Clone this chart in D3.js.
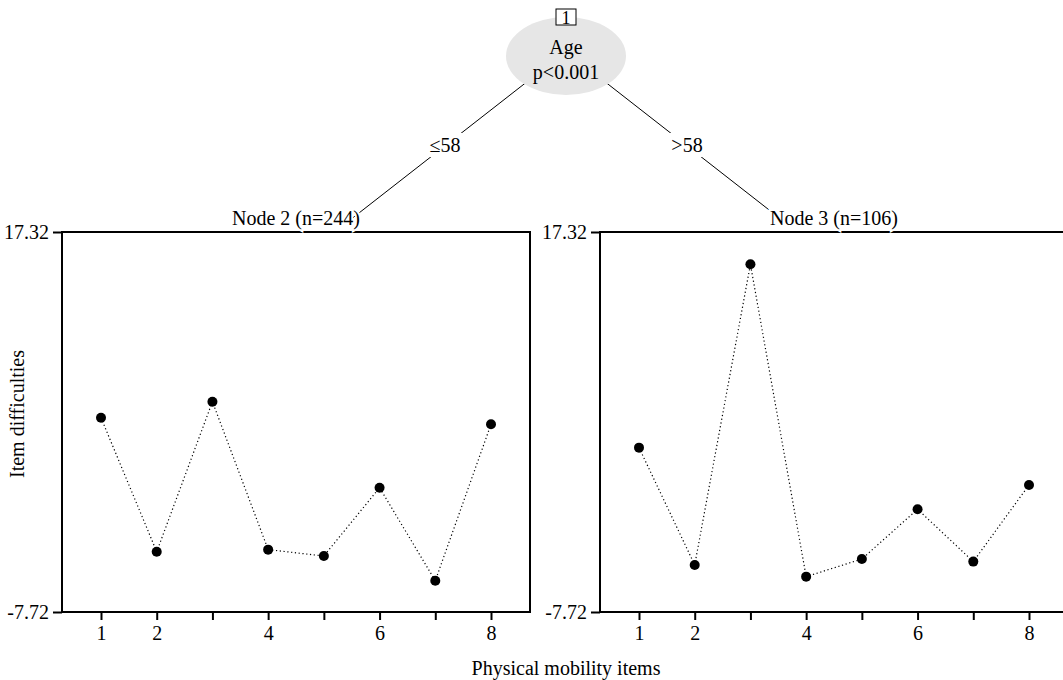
<!DOCTYPE html>
<html>
<head>
<meta charset="utf-8">
<script src="https://cdn.jsdelivr.net/npm/d3@7"></script>
<style>
  body { margin: 0; background: #fff; }
  svg { display: block; font-family: "Liberation Serif", "DejaVu Serif", serif; }
</style>
</head>
<body>
<div id="chart"></div>
<script>
// items and tick labels
const items = [1, 2, 3, 4, 5, 6, 7, 8];
const itemLabels = ["1", "2", "", "4", "", "6", "", "8"];
const yTicks = [-7.72, 17.32];

// item difficulties per terminal node
const node2 = [5.08, -3.75, 6.14, -3.61, -4.03, 0.47, -5.66, 4.65];
const node3 = [3.11, -4.62, 15.19, -5.39, -4.23, -0.95, -4.40, 0.65];

const panels = [
  { title: "Node 2 (n=244)", values: node2, left: 62 },
  { title: "Node 3 (n=106)", values: node3, left: 600 }
];

const width = 1063, height = 680;
const panelW = 468, panelTop = 232, panelBottom = 612;
const fontSize = 20;

const svg = d3.select("#chart").append("svg")
  .attr("width", width)
  .attr("height", height);

// --- tree edges (drawn first, under the node) ---
const edges = [
  { x1: 560, y1: 56, x2: 350, y2: 220, label: "≤58", lx: 445, ly: 145 },
  { x1: 572, y1: 56, x2: 782, y2: 220, label: ">58", lx: 687, ly: 145 }
];
edges.forEach(e => {
  svg.append("line")
    .attr("x1", e.x1).attr("y1", e.y1)
    .attr("x2", e.x2).attr("y2", e.y2)
    .attr("stroke", "#000").attr("stroke-width", 1);
  svg.append("rect")
    .attr("x", e.lx - 22).attr("y", e.ly - 12)
    .attr("width", 44).attr("height", 24)
    .attr("fill", "#fff");
  svg.append("text")
    .attr("x", e.lx).attr("y", e.ly)
    .attr("text-anchor", "middle").attr("dominant-baseline", "central")
    .attr("font-size", fontSize)
    .text(e.label);
});

// --- inner node ---
svg.append("ellipse")
  .attr("cx", 566).attr("cy", 56)
  .attr("rx", 60).attr("ry", 39)
  .attr("fill", "#e6e6e6");
svg.append("rect")
  .attr("x", 556).attr("y", 9)
  .attr("width", 20).attr("height", 16)
  .attr("fill", "#fff").attr("stroke", "#000").attr("stroke-width", 1);
svg.append("text")
  .attr("x", 566).attr("y", 17.5)
  .attr("text-anchor", "middle").attr("dominant-baseline", "central")
  .attr("font-size", fontSize - 2)
  .text("1");
svg.append("text")
  .attr("x", 566).attr("y", 47)
  .attr("text-anchor", "middle").attr("dominant-baseline", "central")
  .attr("font-size", fontSize)
  .text("Age");
svg.append("text")
  .attr("x", 566).attr("y", 72)
  .attr("text-anchor", "middle").attr("dominant-baseline", "central")
  .attr("font-size", fontSize)
  .text("p<0.001");

// --- terminal panels ---
const y = d3.scaleLinear().domain([-7.72, 17.32]).range([panelBottom, panelTop]);

panels.forEach(p => {
  const x = d3.scaleLinear().domain([0.3, 8.7]).range([p.left, p.left + panelW]);
  const g = svg.append("g");

  g.append("rect")
    .attr("x", p.left).attr("y", panelTop)
    .attr("width", panelW).attr("height", panelBottom - panelTop)
    .attr("fill", "none").attr("stroke", "#000").attr("stroke-width", 2);

  g.append("text")
    .attr("x", p.left + panelW / 2).attr("y", panelTop - 7)
    .attr("text-anchor", "middle")
    .attr("font-size", fontSize)
    .attr("stroke", "#fff").attr("stroke-width", 4).attr("paint-order", "stroke")
    .text(p.title);

  const xAxis = g.append("g")
    .attr("transform", `translate(0,${panelBottom})`)
    .call(d3.axisBottom(x).tickValues(items)
      .tickFormat((d, i) => itemLabels[i]).tickSize(8).tickPadding(6))
    .attr("font-family", null).attr("font-size", fontSize);
  xAxis.select(".domain").remove();
  xAxis.selectAll(".tick line").attr("stroke-width", 2);

  const yAxis = g.append("g")
    .attr("transform", `translate(${p.left},0)`)
    .call(d3.axisLeft(y).tickValues(yTicks)
      .tickFormat(d => d.toFixed(2)).tickSize(9).tickPadding(4))
    .attr("font-family", null).attr("font-size", fontSize);
  yAxis.select(".domain").remove();
  yAxis.selectAll(".tick line").attr("stroke-width", 2);

  const line = d3.line().x((d, i) => x(items[i])).y(d => y(d));
  g.append("path")
    .datum(p.values)
    .attr("d", line)
    .attr("fill", "none")
    .attr("stroke", "#000")
    .attr("stroke-width", 1.2)
    .attr("stroke-dasharray", "1.2,2.6");

  g.selectAll("circle")
    .data(p.values)
    .join("circle")
    .attr("cx", (d, i) => x(items[i]))
    .attr("cy", d => y(d))
    .attr("r", 5)
    .attr("fill", "#000");
});

// --- axis titles ---
svg.append("text")
  .attr("transform", `translate(17,${(panelTop + panelBottom) / 2 - 8}) rotate(-90)`)
  .attr("text-anchor", "middle").attr("dominant-baseline", "central")
  .attr("font-size", fontSize)
  .text("Item difficulties");

svg.append("text")
  .attr("x", 566).attr("y", 668)
  .attr("text-anchor", "middle").attr("dominant-baseline", "central")
  .attr("font-size", fontSize)
  .text("Physical mobility items");
</script>
</body>
</html>
